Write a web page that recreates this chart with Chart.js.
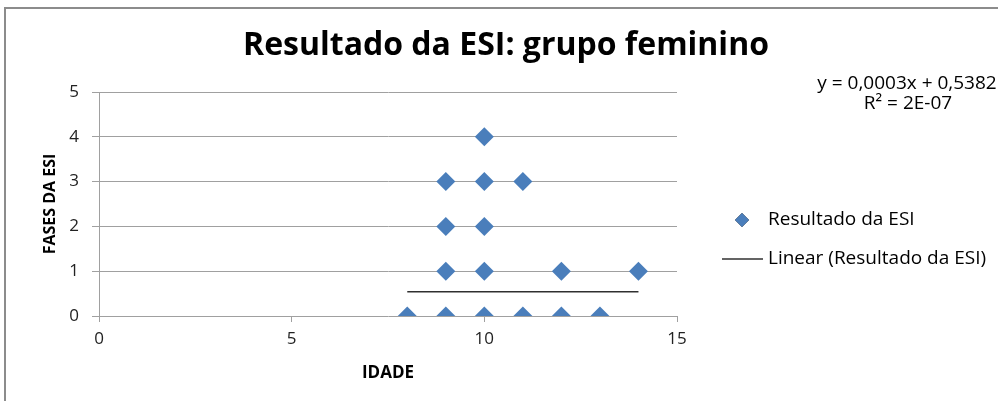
<!DOCTYPE html>
<html>
<head>
<meta charset="utf-8">
<script src="https://cdn.jsdelivr.net/npm/chart.js@4/dist/chart.umd.min.js"></script>
<style>
  html, body { margin: 0; padding: 0; background: #fff; }
  #grafico { display: block; }
</style>
</head>
<body>
<canvas id="grafico" width="998" height="401"></canvas>
<script>
// dados
var titulo = 'Resultado da ESI: grupo feminino';
var nomeSerie = 'Resultado da ESI';
var nomeLinear = 'Linear (Resultado da ESI)';
var idade = [8, 9, 10, 11, 12, 13, 9, 10, 12, 14, 9, 10, 9, 10, 11, 10];
var fases = [0, 0, 0, 0, 0, 0, 1, 1, 1, 1, 2, 2, 3, 3, 3, 4];
var linearX = [8, 14];
var linearY = [0.5406, 0.5424];
var equacao = ['y = 0,0003x + 0,5382', 'R² = 2E-07'];
var tituloX = 'IDADE';
var tituloY = 'FASES DA ESI';
var ticksX = [0, 5, 10, 15];
var ticksY = [0, 1, 2, 3, 4, 5];

var fonte = "'Open Sans', sans-serif";
var azul = '#4a7ebb';

var pontos = idade.map(function(v, i) { return {x: v, y: fases[i]}; });
var linha = linearX.map(function(v, i) { return {x: v, y: linearY[i]}; });

// moldura, titulo, legenda e equacao
var extras = {
  id: 'extras',
  beforeDraw: function(chart) {
    var ctx = chart.ctx;
    ctx.save();
    ctx.fillStyle = '#fff';
    ctx.fillRect(0, 0, chart.width, chart.height);
    ctx.strokeStyle = '#8c8c8c';
    ctx.lineWidth = 2;
    ctx.beginPath();
    ctx.moveTo(5, chart.height);
    ctx.lineTo(5, 8);
    ctx.lineTo(chart.width, 8);
    ctx.stroke();
    ctx.restore();
  },
  afterDraw: function(chart) {
    var ctx = chart.ctx;
    ctx.save();
    ctx.fillStyle = '#000';
    ctx.textAlign = 'center';
    ctx.textBaseline = 'middle';
    ctx.font = 'bold 32px ' + fonte;
    ctx.fillText(titulo, 506, 46);

    ctx.font = '19px ' + fonte;
    ctx.fillText(equacao[0], 907, 84);
    ctx.fillText(equacao[1], 908, 104);

    // legenda
    var ds = chart.data.datasets;
    ctx.textAlign = 'left';
    ctx.font = '19px ' + fonte;
    Chart.helpers.drawPoint(ctx, {pointStyle: 'rectRot', radius: 7, borderWidth: 0}, 742, 220);
    ctx.fillStyle = ds[0].backgroundColor;
    ctx.fill();
    ctx.fillStyle = '#000';
    ctx.fillText(ds[0].label, 768, 220);
    ctx.strokeStyle = ds[1].borderColor;
    ctx.lineWidth = 1.5;
    ctx.beginPath();
    ctx.moveTo(722, 259);
    ctx.lineTo(763, 259);
    ctx.stroke();
    ctx.fillText(ds[1].label, 768, 259);
    ctx.restore();
  }
};

var grafico = new Chart(document.getElementById('grafico').getContext('2d'), {
  type: 'scatter',
  data: {
    datasets: [{
      label: nomeSerie,
      data: pontos,
      pointStyle: 'rectRot',
      pointRadius: 9.5,
      pointHoverRadius: 9.5,
      backgroundColor: azul,
      borderColor: azul,
      borderWidth: 0
    }, {
      label: nomeLinear,
      type: 'line',
      data: linha,
      borderColor: '#303030',
      borderWidth: 1.5,
      pointRadius: 0,
      fill: false
    }]
  },
  options: {
    responsive: false,
    animation: false,
    layout: { padding: { left: 0, right: 321, top: 92, bottom: 0 } },
    plugins: {
      legend: { display: false },
      tooltip: { enabled: false },
      title: { display: false }
    },
    scales: {
      x: {
        type: 'linear',
        min: 0,
        max: 15,
        afterBuildTicks: function(s) { s.ticks = ticksX.map(function(v) { return {value: v}; }); },
        afterFit: function(s) { s.height = 85; },
        grid: { drawOnChartArea: false, drawTicks: true, tickLength: 6, color: '#a0a0a0' },
        border: { display: false },
        ticks: { color: '#222', padding: 7, font: { family: fonte, size: 17 } },
        title: {
          display: true, text: tituloX, color: '#000',
          font: { family: fonte, size: 17, weight: 'bold' },
          padding: { top: 0, bottom: 18 }
        }
      },
      y: {
        min: 0,
        max: 5,
        afterBuildTicks: function(s) { s.ticks = ticksY.map(function(v) { return {value: v}; }); },
        afterFit: function(s) { s.width = 99; },
        grid: { color: '#a0a0a0', tickLength: 7 },
        border: { display: true, color: '#a0a0a0', width: 1 },
        ticks: { color: '#222', padding: 13, font: { family: fonte, size: 17 } },
        title: {
          display: true, text: tituloY, color: '#000',
          font: { family: fonte, size: 16, weight: 'bold' },
          padding: { top: 41, bottom: 0 }
        }
      }
    }
  },
  plugins: [extras]
});
</script>
</body>
</html>
